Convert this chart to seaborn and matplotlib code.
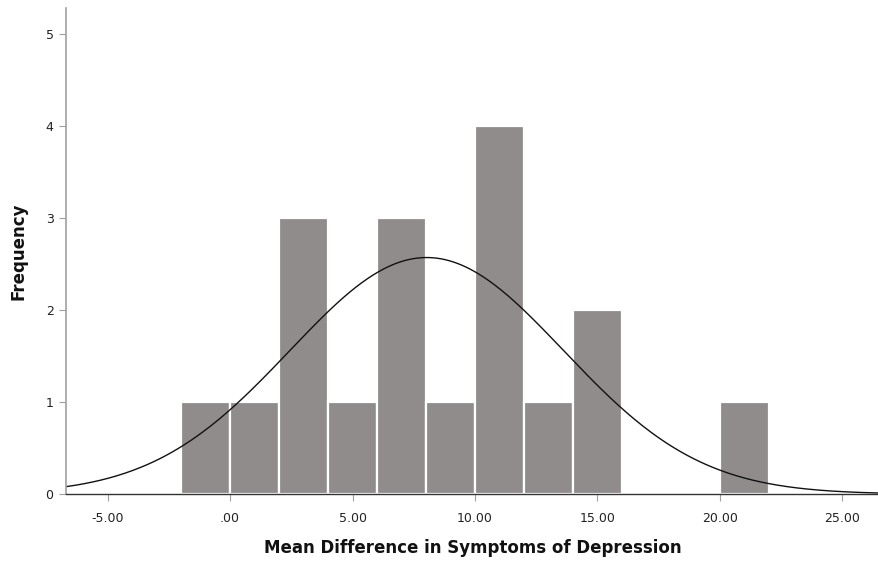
import numpy as np
import pandas as pd
import seaborn as sns
import matplotlib.pyplot as plt
from matplotlib.ticker import FuncFormatter

# Histogram bins (width 2) and observed frequencies
bin_edges = [-2, 0, 2, 4, 6, 8, 10, 12, 14, 16, 18, 20, 22]
counts = [1, 1, 3, 1, 3, 1, 4, 1, 2, 0, 0, 1]

# Fitted normal curve parameters
curve_mean = 8.03
curve_sd = 5.59
n_total = 18

sns.set_theme(style="white")
plt.rcParams['font.family'] = ['DejaVu Sans']

fig = plt.figure(figsize=(8.79, 5.61), dpi=100)
ax = fig.add_axes([0.0751, 0.1194, 0.9249, 0.8663])

mids = [(a + b) / 2 for a, b in zip(bin_edges[:-1], bin_edges[1:])]
df = pd.DataFrame({"value": mids, "freq": counts})
sns.histplot(data=df, x="value", weights="freq", bins=bin_edges, ax=ax,
             color="#908c8b", edgecolor="white", linewidth=1.6, alpha=1)

bw = bin_edges[1] - bin_edges[0]
xs = np.linspace(-6.7, 26.5, 400)
ys = n_total * bw / (curve_sd * np.sqrt(2 * np.pi)) * np.exp(-0.5 * ((xs - curve_mean) / curve_sd) ** 2)
sns.lineplot(x=xs, y=ys, ax=ax, color="#111111", linewidth=1.0)

ax.set_xlim(-6.7, 26.5)
ax.set_ylim(0, 5.28)
ax.set_xticks([-5, 0, 5, 10, 15, 20, 25])
ax.set_yticks([0, 1, 2, 3, 4, 5])

def fmt(v, pos):
    s = f"{v:.2f}"
    if s.startswith("0."):
        s = s[1:]
    return s

ax.xaxis.set_major_formatter(FuncFormatter(fmt))
ax.tick_params(axis="both", which="major", direction="out", length=5, width=0.8,
               color="#a0a0a0", labelsize=9, labelcolor="#222222", pad=4)
ax.tick_params(axis="x", pad=8)
ax.tick_params(left=True, bottom=True)

for side in ["top", "right"]:
    ax.spines[side].set_visible(False)
ax.spines["left"].set_color("#a0a0a0")
ax.spines["left"].set_linewidth(1.2)
ax.spines["bottom"].set_color("#333333")
ax.spines["bottom"].set_linewidth(1.0)

ax.set_xlabel("Mean Difference in Symptoms of Depression", fontsize=12,
              fontweight="bold", color="#111111", labelpad=10)
ax.set_ylabel("Frequency", fontsize=12, fontweight="bold", color="#111111", labelpad=13)

fig.savefig("out.png", dpi=100)
